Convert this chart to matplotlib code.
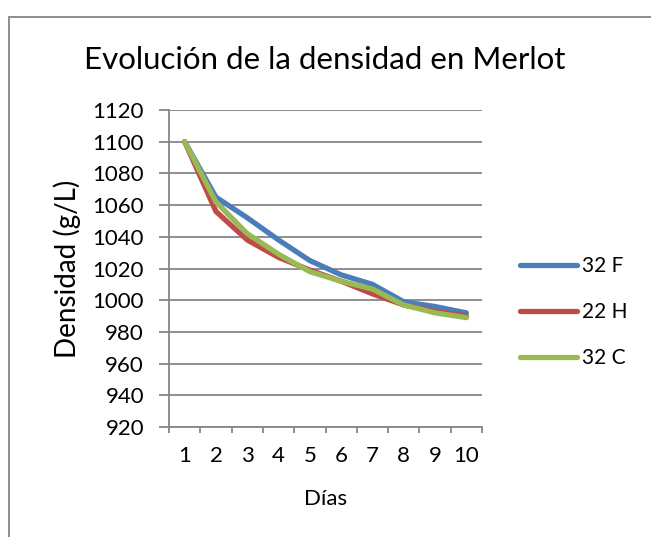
import matplotlib
matplotlib.use("Agg")
import matplotlib.pyplot as plt
from matplotlib.patches import Rectangle

plt.rcParams['font.family'] = ['Lato', 'DejaVu Sans']

dias = [1, 2, 3, 4, 5, 6, 7, 8, 9, 10]
serie_32f = [1100, 1065, 1052, 1038, 1025, 1016, 1010, 999, 996, 992]
serie_22h = [1100, 1056, 1038, 1027, 1019, 1012, 1004, 997, 993, 990]
serie_32c = [1100, 1062, 1042, 1029, 1018, 1012, 1007, 997, 992, 989]
nombres = ["32 F", "22 H", "32 C"]
colores = ["#4A7EBB", "#BE4B48", "#98B954"]
yticks = list(range(920, 1121, 20))

grey = "#868686"

fig = plt.figure(figsize=(6.51, 5.37), dpi=100)
ax = fig.add_axes([169 / 651, 1 - 427 / 537, (482 - 169) / 651, (427 - 110) / 537])

for vals, name, c in zip((serie_32f, serie_22h, serie_32c), nombres, colores):
    ax.plot(dias, vals, color=c, lw=3.8, label=name, solid_capstyle="round",
            solid_joinstyle="round")

ax.set_xlim(0.5, 10.5)
ax.set_ylim(920, 1120)
ax.set_yticks(yticks)
ax.set_xticks(dias)
ax.set_xticks([d + 0.5 for d in [0] + dias], minor=True)
ax.tick_params(axis="x", which="major", length=0, pad=14, labelsize=16)
ax.tick_params(axis="x", which="minor", length=4.5, color=grey, width=1.3)
ax.tick_params(axis="y", length=7, color=grey, width=1.3, labelsize=16, pad=11)
ax.grid(axis="y", color=grey, lw=1.3)
ax.set_axisbelow(True)
for s in ("top", "right"):
    ax.spines[s].set_visible(False)
for s in ("left", "bottom"):
    ax.spines[s].set_color(grey)
    ax.spines[s].set_linewidth(1.3)

ax.set_xlabel("Días", fontsize=16, labelpad=16)
ax.set_ylabel("Densidad (g/L)", fontsize=20, labelpad=8)
fig.text(325 / 651, 1 - 60 / 537, "Evolución de la densidad en Merlot",
         fontsize=22.5, ha="center", va="center")

ax.legend(loc="center left", bbox_to_anchor=(1.062, 0.363), frameon=False,
          fontsize=15, handlelength=2.75, handletextpad=0.2, labelspacing=1.25)

fig.patches.append(Rectangle((8.5 / 651, -0.1), 2, 1 - 17 / 537 + 0.1,
                             transform=fig.transFigure, fill=False,
                             edgecolor=grey, lw=1.3))

fig.savefig("out.png", dpi=100)
